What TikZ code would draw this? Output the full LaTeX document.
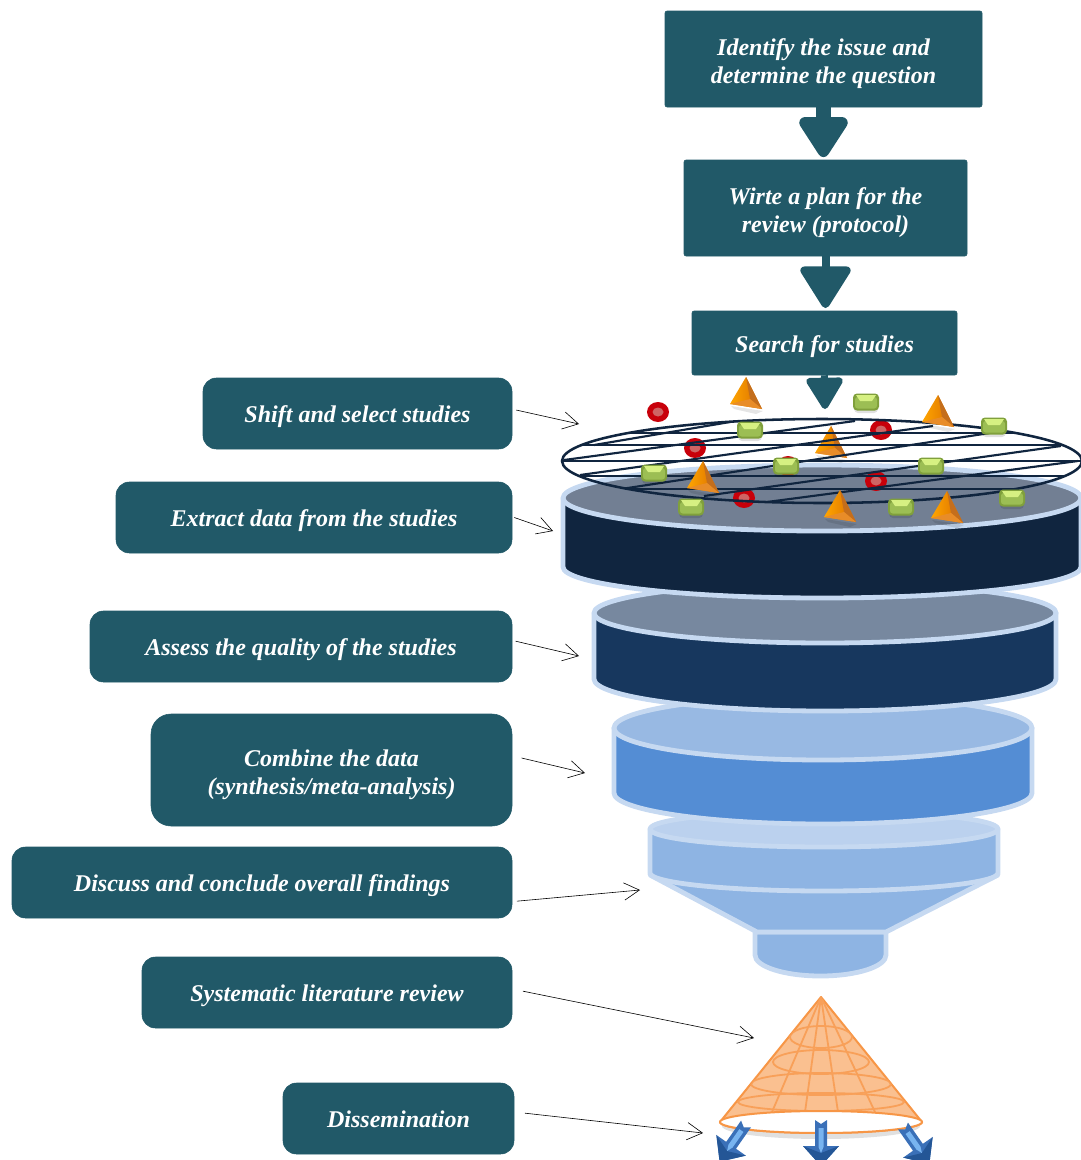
\documentclass[tikz,border=0pt]{standalone}
\usepackage{fontspec}
\setmainfont{Liberation Serif}
\usetikzlibrary{arrows.meta,shadows,calc}
\definecolor{teal}{HTML}{215968}
\definecolor{rimc}{HTML}{C6D9F1}
\definecolor{sieve}{HTML}{10253F}
\definecolor{coneline}{HTML}{F79646}
\definecolor{conefill}{HTML}{FAC090}
\newcommand{\firstlift}{\rule{0pt}{19.7pt}}
\newcommand{\lowlift}{\rule[-3.9pt]{0pt}{1pt}}
\tikzset{
  x=0.75pt,y=-0.75pt,
  boxsize/.style 2 args={minimum width=#1*0.75pt,minimum height=#2*0.75pt},
  label text/.style={text=white,font=\bfseries\itshape\fontsize{18}{21}\selectfont,align=center,inner sep=0pt,execute at begin node={\rule{0pt}{18pt}}},
  stepbox/.style={label text,fill=teal,draw=teal,rounded corners=1.5pt},
  sidebox/.style={label text,fill=teal,draw=teal,rounded corners=10pt},
  thin arrow/.style={draw=black,line width=0.45pt,-{Straight Barb[length=11.5pt,width=13pt,line width=0.45pt]}},
  flow/.style={draw=teal,line width=#1,-{Triangle[round,length=34pt,width=41pt]},shorten >=2pt},
  rim/.style={draw=rimc,line width=3.6pt,line join=round},
  sieve line/.style={draw=sieve,line width=1.6pt},
  cone grid/.style={draw=coneline!90!white,line width=1.35pt},
}
\newcommand{\tierdisc}[8]{% cx ytop ybot rx rytop rybot topcolor bodycolor
  \path[rim,fill=#8] (#1-#4,#2) -- (#1-#4,#3) arc[start angle=180,end angle=0,x radius=#4,y radius=#6] -- (#1+#4,#2) -- cycle;
  \path[rim,fill=#7] (#1,#2) ellipse[x radius=#4,y radius=#5];
}
\newcommand{\pyr}[2]{% apex x y
  \begin{scope}[shift={(#1,#2)}]
    \fill[black,opacity=.10] (-15,29) -- (17,34) -- (10,37) -- (-12,32) -- cycle;
    \shade[left color=orange!70!yellow,right color=orange!85!black] (0,0) -- (-16,27) -- (16,32) -- cycle;
    \fill[color={rgb,255:red,196;green,110;blue,28}] (0,0) -- (4,22) -- (16,32) -- cycle;
    \fill[color={rgb,255:red,232;green,140;blue,40}] (-16,27) -- (4,22) -- (16,32) -- cycle;
  \end{scope}
}
\newcommand{\gem}[2]{% centre x y
  \begin{scope}[shift={(#1,#2)}]
    \fill[black,opacity=.12,rounded corners=3pt] (-12,-5) rectangle (12,11);
    \fill[color={rgb,255:red,128;green,160;blue,60},rounded corners=3pt] (-13,-8.5) rectangle (13,8.5);
    \fill[color={rgb,255:red,156;green,190;blue,84},rounded corners=2pt] (-11,-5) rectangle (11,6.5);
    \fill[color={rgb,255:red,214;green,240;blue,130}] (-10,-7) -- (10,-7) -- (6,-1) -- (-6,-1) -- cycle;
  \end{scope}
}
\newcommand{\ringdot}[2]{%
  \fill[color={rgb,255:red,200;green,0;blue,10}] (#1,#2) ellipse[x radius=11,y radius=10];
  \fill[color={rgb,255:red,206;green,100;blue,100}] (#1,#2) ellipse[x radius=5.5,y radius=4.5];
}
\newcommand{\blarrow}[3]{% tail x y rotation
  \begin{scope}[shift={(#1,#2)},rotate=#3]
    \fill[color={rgb,255:red,58;green,112;blue,184}]
      (0,4) -- (-6,0) -- (-6,26) -- (-18,26) -- (0,46) -- (18,26) -- (6,26) -- (6,0) -- cycle;
    \fill[color={rgb,255:red,36;green,86;blue,150}] (-18,26) -- (0,46) -- (18,26) -- (0,33) -- cycle;
    \fill[color={rgb,255:red,120;green,180;blue,240}] (-2.5,8) -- (2.5,8) -- (2.5,27) -- (0,33) -- (-2.5,27) -- cycle;
  \end{scope}
}
\begin{document}
\begin{tikzpicture}
\useasboundingbox (0,0) rectangle (1081,1160);
\clip (0,0) rectangle (1081,1160);

% top boxes
\node[stepbox,boxsize={317}{96}] (issue) at (823.5,59) {\firstlift Identify the issue and\\determine the question};
\node[stepbox,boxsize={283}{96}] (plan) at (825.5,208) {\firstlift Wirte a plan for the\\review (protocol)};
\node[stepbox,boxsize={265}{64}] (search) at (824.5,343) {Search for studies};

% side boxes
\node[sidebox,boxsize={309}{71}] (shift) at (357.5,413.5) {Shift and select studies};
\node[sidebox,boxsize={396}{71}] (extract) at (314,517.5) {Extract data from the studies};
\node[sidebox,boxsize={422}{71}] (assess) at (301,646.5) {Assess the quality of the studies};
\node[sidebox,boxsize={361}{112},rounded corners=15pt] (combine) at (331.5,770) {\firstlift Combine the data\\(synthesis/meta-analysis)};
\node[sidebox,boxsize={500}{71}] (discuss) at (262,882.5) {Discuss and conclude overall findings};
\node[sidebox,boxsize={370}{71}] (review) at (327,992.5) {Systematic literature review};
\node[sidebox,boxsize={231}{71}] (dissem) at (398.5,1118.5) {\lowlift Dissemination};

% funnel, drawn bottom up so each tier overlaps the next
\path[rim,fill={rgb,255:red,142;green,180;blue,227}]
  (755,932) -- (755,955) arc[start angle=180,end angle=0,x radius=65.5,y radius=21] -- (886,932) -- cycle;
\path[rim,fill={rgb,255:red,142;green,180;blue,227}]
  (650,875) -- (757,932) -- (886,932) -- (998,875) -- cycle;
\definecolor{t4top}{HTML}{BBD1EE}\definecolor{t4body}{HTML}{8EB4E3}
\definecolor{t3top}{HTML}{98B9E3}\definecolor{t3body}{HTML}{548DD4}
\definecolor{t2top}{HTML}{77889F}\definecolor{t2body}{HTML}{17375E}
\definecolor{t1top}{HTML}{727F93}\definecolor{t1body}{HTML}{10253F}
\tierdisc{824}{829}{873}{174}{18}{18}{t4top}{t4body}
\tierdisc{823}{728}{793}{209}{32}{31}{t3top}{t3body}
\tierdisc{825}{613}{679}{231}{30}{32}{t2top}{t2body}
\tierdisc{822}{498}{567}{259}{33}{31}{t1top}{t1body}

% sieve
\ringdot{658}{412}
\ringdot{695}{448}
\ringdot{881}{430}
\ringdot{744}{498}
\ringdot{876}{481}
\ringdot{788}{466}
\pyr{831}{426}
\begin{scope}
  \clip (822,461) ellipse[x radius=260,y radius=42];
  \foreach \yy in {433,445,461,476,489} \draw[sieve line] (550,\yy) -- (1090,\yy);
  \draw[sieve line] (594,445) -- (736,421);
  \draw[sieve line] (564,460) -- (855,421);
  \draw[sieve line] (580,475) -- (933,426);
  \draw[sieve line] (621,489) -- (990,433);
  \draw[sieve line] (704,496) -- (1061,446);
  \draw[sieve line] (767,502) -- (1078,461);
\end{scope}
\draw[sieve line,line width=1.9pt] (822,461) ellipse[x radius=260,y radius=42];
\pyr{746}{377}
\pyr{938}{395}
\pyr{703}{461}
\pyr{840}{490}
\pyr{947}{491}
\gem{866}{402}
\gem{750}{430}
\gem{994}{426}
\gem{786}{466}
\gem{654}{473}
\gem{931}{466}
\gem{1012}{498}
\gem{691}{507}
\gem{901}{507}

% flow arrows
\coordinate (sievetop) at (825,409);
\draw[flow=11pt] (issue.south) -- (issue.south |- plan.north);
\draw[flow=6pt] (plan.south) -- (plan.south |- search.north);
\draw[draw=teal,line width=5pt,-{Triangle[round,length=26pt,width=30pt]}] (search.south) -- (sievetop);

% cone
\fill[black,opacity=.12] (722,1126) arc[start angle=180,end angle=0,x radius=99,y radius=13] -- cycle;
\path[fill=conefill,draw=coneline,line width=1.5pt,line join=round]
  (821,997) -- (720,1122) arc[start angle=180,end angle=0,x radius=101,y radius=11] -- cycle;
\begin{scope}
  \clip (821,997) -- (720,1122) -- (922,1122) -- cycle;
  \foreach \xx in {772,805,838,875} \draw[cone grid] (821,997) -- (\xx,1112);
  \draw[cone grid] (821,1037) ellipse[x radius=31,y radius=11];
  \draw[cone grid] (821,1062) ellipse[x radius=48,y radius=12];
  \draw[cone grid] (821,1084) ellipse[x radius=70,y radius=11];
  \draw[cone grid] (821,1102) ellipse[x radius=83,y radius=9];
\end{scope}
\path[fill=white,draw=coneline,line width=1.5pt] (821,1122) ellipse[x radius=101,y radius=11];
\blarrow{746}{1124}{-35}
\blarrow{821}{1120}{0}
\blarrow{903}{1126}{35}

% pointer arrows
\coordinate (pshift) at (579,424);
\coordinate (pextract) at (553,531);
\coordinate (passess) at (579,656);
\coordinate (pcombine) at (585,773);
\coordinate (pdiscuss) at (640,890);
\coordinate (preview) at (754,1038);
\coordinate (pdissem) at (703,1133);
\draw[thin arrow] ([xshift=3pt,yshift=2.6pt]shift.east) -- (pshift);
\draw[thin arrow] ([xshift=1.5pt,yshift=0pt]extract.east) -- (pextract);
\draw[thin arrow] ([xshift=2.5pt,yshift=4pt]assess.east) -- (passess);
\draw[thin arrow] ([xshift=7pt,yshift=9pt]combine.east) -- (pcombine);
\draw[thin arrow] ([xshift=3.5pt,yshift=-14pt]discuss.east) -- (pdiscuss);
\draw[thin arrow] ([xshift=8pt,yshift=1pt]review.east) -- (preview);
\draw[thin arrow] ([xshift=8pt,yshift=4pt]dissem.east) -- (pdissem);
\end{tikzpicture}
\end{document}
